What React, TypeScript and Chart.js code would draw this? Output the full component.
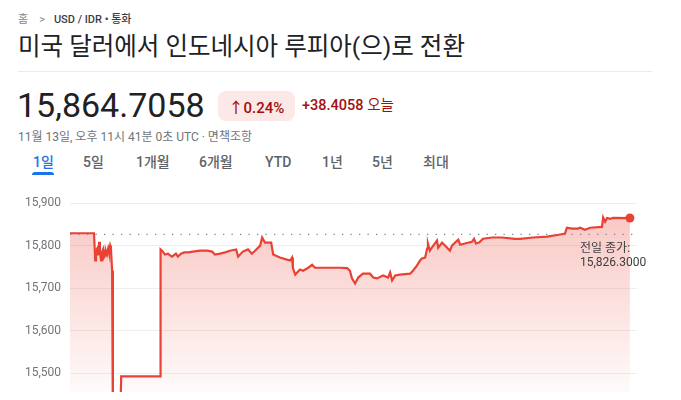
import React, { useEffect, useRef } from "react";
import { Chart, registerables } from "chart.js";

Chart.register(...registerables);

// minutes since start of day (UTC)
const minutes = [
  0, 61, 64, 66, 69, 71, 74, 76, 79, 81, 84, 86, 89, 91, 94, 97, 99, 102, 104, 107,
  109, 127, 130, 229, 230, 234, 241, 249, 254, 259, 269, 274, 282, 290, 300, 312,
  330, 348, 361, 368, 381, 394, 406, 422, 427, 439, 452, 462, 470, 483, 488, 495,
  511, 516, 533, 551, 559, 564, 566, 572, 584, 592, 605, 615, 622, 635, 660, 686,
  704, 711, 716, 724, 732, 744, 762, 770, 780, 795, 808, 813, 818, 826, 838, 864,
  871, 881, 889, 894, 902, 907, 909, 914, 919, 932, 935, 945, 958, 965, 970, 978,
  986, 991, 1003, 1021, 1026, 1031, 1039, 1049, 1072, 1097, 1130, 1143, 1176, 1212,
  1245, 1257, 1262, 1275, 1290, 1295, 1308, 1321, 1351, 1354, 1359, 1364, 1372,
  1379, 1422,
];

const rates = [
  15829, 15829, 15765, 15788, 15793, 15777, 15809, 15784, 15765, 15784, 15791, 15772,
  15777, 15788, 15779, 15793, 15784, 15800, 15793, 15741,
  15360, 15360, 15493, 15493, 15791, 15788, 15779, 15781, 15777, 15774, 15781, 15774,
  15781, 15784, 15784, 15786,
  15788, 15788, 15786, 15779, 15781, 15784, 15788, 15791, 15774, 15786, 15791, 15781,
  15788, 15800, 15819, 15807,
  15807, 15779, 15772, 15767, 15765, 15772, 15748, 15732, 15744, 15741, 15748, 15755,
  15748, 15748, 15748, 15748,
  15747, 15741, 15723, 15711, 15725, 15734, 15734, 15725, 15723, 15730, 15725, 15737,
  15718, 15730, 15732, 15734,
  15741, 15753, 15765, 15770, 15772, 15793, 15805, 15788, 15795, 15812, 15795, 15807,
  15795, 15788, 15800, 15807,
  15814, 15802, 15805, 15809, 15816, 15805, 15807, 15816, 15819, 15819, 15816, 15816,
  15819, 15821,
  15826, 15828, 15842, 15840, 15840, 15842, 15837, 15842, 15844, 15866, 15856, 15865,
  15863, 15865, 15864.7058,
];

const yTicks = [15300, 15400, 15500, 15600, 15700, 15800, 15900];
const prevClose = 15826.3;
const prevCloseLabel = ["전일 종가:", "15,826.3000"];
const tabs = ["1일", "5일", "1개월", "6개월", "YTD", "1년", "5년", "최대"];
const tabLefts = [33, 83, 136, 199, 265, 322, 372, 423];

const FONT = "Roboto, 'Noto Sans CJK KR', sans-serif";
const RED = "#e94235";

const labelPlugin = {
  id: "prevCloseLabel",
  afterDatasetsDraw(chart: any) {
    const { ctx, chartArea, scales } = chart;
    const y = scales.y.getPixelForValue(prevClose);
    const x = chartArea.right - 57;
    ctx.save();
    ctx.font = "12px " + FONT;
    ctx.fillStyle = "#3c4043";
    ctx.textAlign = "left";
    ctx.textBaseline = "middle";
    ctx.fillText(prevCloseLabel[0], x, y + 15);
    ctx.fillText(prevCloseLabel[1], x, y + 28.5);
    ctx.restore();
  },
};

function RateChart() {
  const ref = useRef<HTMLCanvasElement>(null);
  useEffect(() => {
    if (!ref.current) return;
    const last = minutes.length - 1;
    const chart = new Chart(ref.current, {
      type: "line",
      data: {
        datasets: [
          {
            data: [
              { x: 0, y: prevClose },
              { x: 1440, y: prevClose },
            ],
            borderColor: "#80868b",
            borderWidth: 1.3,
            borderDash: [1.3, 7.2],
            pointRadius: 0,
            fill: false,
          },
          {
            data: minutes.map((m, i) => ({ x: m, y: rates[i] })),
            borderColor: RED,
            borderWidth: 2.2,
            tension: 0,
            fill: "start",
            backgroundColor: (c: any) => {
              const area = c.chart.chartArea;
              if (!area) return "rgba(234,67,53,0.2)";
              const g = c.chart.ctx.createLinearGradient(0, area.top, 0, area.top + 215);
              g.addColorStop(0, "rgba(234,67,53,0.32)");
              g.addColorStop(1, "rgba(234,67,53,0)");
              return g;
            },
            pointRadius: (c: any) => (c.dataIndex === last ? 4.5 : 0),
            pointBackgroundColor: RED,
            pointBorderWidth: 0,
          },
        ],
      },
      options: {
        animation: false,
        responsive: false,
        devicePixelRatio: 1,
        layout: { padding: { top: 3.76, right: 44, bottom: 11.5, left: 0 } },
        plugins: { legend: { display: false }, tooltip: { enabled: false } },
        scales: {
          x: { type: "linear", min: 0, max: 1440, display: false },
          y: {
            min: 15300,
            max: 15920,
            afterFit: (s: any) => {
              s.width = 70;
              s.paddingTop = 0;
              s.paddingBottom = 0;
            },
            afterBuildTicks: (s: any) => {
              s.ticks = yTicks.map((v) => ({ value: v }));
            },
            border: { display: false },
            grid: { color: "#eeeeee", drawTicks: false },
            ticks: {
              padding: 9,
              color: "#70757a",
              font: { family: FONT, size: 12 },
              callback: (v: any) => Number(v).toLocaleString("en-US"),
            },
          },
        },
      },
      plugins: [labelPlugin],
    });
    return () => chart.destroy();
  }, []);
  return (
    <canvas
      ref={ref}
      width={681}
      height={280}
      style={{ position: "absolute", left: 0, top: 190, width: 681, height: 280 }}
    />
  );
}

export default function App() {
  const abs = (left: number, top: number, extra: any = {}) => ({
    position: "absolute" as const,
    left,
    top,
    whiteSpace: "nowrap" as const,
    ...extra,
  });
  return (
    <div
      style={{
        position: "relative",
        width: 681,
        height: 400,
        margin: -8,
        overflow: "hidden",
        background: "#fff",
        fontFamily: FONT,
      }}
    >
      <div style={abs(18, 13, { fontSize: 11, lineHeight: "14px", color: "#5f6368" })}>
        <span style={{ color: "#80868b" }}>홈</span>
        <span style={{ color: "#80868b", margin: "0 9px 0 11px" }}>&gt;</span>
        <span style={{ fontWeight: 500, color: "#3c4043" }}>USD / IDR • 통화</span>
      </div>
      <div style={abs(18, 32, { fontSize: 24.5, lineHeight: "30px", color: "#202124" })}>
        미국 달러에서 인도네시아 루피아(으)로 전환
      </div>
      <div style={abs(18, 71, { width: 634, height: 1, background: "#e8eaed" })} />
      <div style={abs(17, 88, { fontSize: 34, lineHeight: "34px", color: "#202124" })}>
        15,864.7058
      </div>
      <div
        style={abs(218, 91, {
          width: 77,
          height: 30,
          borderRadius: 8,
          background: "#fce8e6",
          color: "#a50e0e",
          fontSize: 15,
          fontWeight: 500,
          display: "flex",
          alignItems: "center",
          justifyContent: "center",
        })}
      >
        ↑0.24%
      </div>
      <div style={abs(302, 98, { fontSize: 14.5, lineHeight: "16px", color: "#a50e0e" })}>
        <span style={{ fontWeight: 500 }}>+38.4058</span> 오늘
      </div>
      <div style={abs(18, 130, { fontSize: 12, lineHeight: "14px", color: "#70757a" })}>
        11월 13일, 오후 11시 41분 0초 UTC · 면책조항
      </div>
      {tabs.map((t, i) => (
        <div
          key={t}
          style={abs(tabLefts[i], 154, {
            fontSize: 14,
            lineHeight: "16px",
            fontWeight: 500,
            color: i === 0 ? "#1a73e8" : "#5f6368",
          })}
        >
          {t}
        </div>
      ))}
      <div
        style={abs(32, 172, {
          width: 22,
          height: 3,
          borderRadius: "3px 3px 0 0",
          background: "#1a73e8",
        })}
      />
      <RateChart />
    </div>
  );
}
